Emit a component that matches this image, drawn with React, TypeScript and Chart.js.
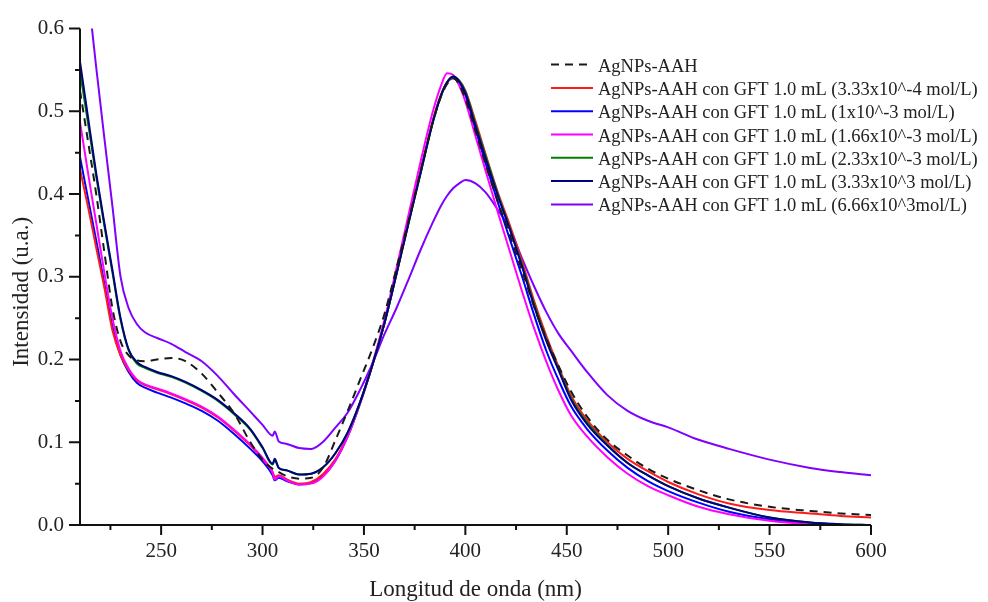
import React, { useEffect, useRef } from 'react';
import { Chart, registerables } from 'chart.js';
Chart.register(...registerables);

const wavelengths = [210, 214, 218, 222, 226, 230, 234, 238, 242, 248, 255, 262, 270, 278, 286, 294, 300, 305, 306, 308, 312, 318, 324, 330, 336, 342, 348, 354, 360, 366, 372, 378, 384, 388, 391, 394, 397, 400, 405, 410, 416, 422, 428, 434, 440, 446, 452, 460, 470, 480, 490, 500, 515, 530, 550, 570, 585, 600];

const aah = [0.525, 0.463, 0.400, 0.330, 0.262, 0.222, 0.205, 0.199, 0.198, 0.200, 0.202, 0.198, 0.183, 0.160, 0.135, 0.100, 0.079, 0.068, 0.067, 0.064, 0.059, 0.056, 0.057, 0.070, 0.103, 0.138, 0.175, 0.212, 0.254, 0.310, 0.368, 0.428, 0.487, 0.518, 0.533, 0.540, 0.532, 0.515, 0.476, 0.436, 0.391, 0.350, 0.307, 0.263, 0.225, 0.192, 0.162, 0.131, 0.103, 0.084, 0.068, 0.056, 0.042, 0.031, 0.022, 0.017, 0.014, 0.012];

const gft333e4 = [0.430, 0.384, 0.335, 0.287, 0.235, 0.205, 0.187, 0.175, 0.169, 0.164, 0.158, 0.151, 0.142, 0.130, 0.114, 0.096, 0.080, 0.064, 0.058, 0.060, 0.055, 0.050, 0.052, 0.062, 0.080, 0.109, 0.147, 0.192, 0.243, 0.303, 0.366, 0.428, 0.489, 0.520, 0.535, 0.541, 0.537, 0.525, 0.488, 0.448, 0.402, 0.362, 0.318, 0.270, 0.228, 0.191, 0.157, 0.127, 0.100, 0.080, 0.065, 0.052, 0.037, 0.026, 0.018, 0.014, 0.011, 0.009];

const gft1e3 = [0.445, 0.394, 0.344, 0.292, 0.240, 0.205, 0.185, 0.172, 0.166, 0.160, 0.154, 0.147, 0.138, 0.126, 0.110, 0.092, 0.077, 0.060, 0.054, 0.057, 0.053, 0.049, 0.051, 0.060, 0.078, 0.107, 0.146, 0.192, 0.243, 0.304, 0.367, 0.429, 0.489, 0.520, 0.535, 0.540, 0.535, 0.520, 0.478, 0.437, 0.390, 0.345, 0.300, 0.253, 0.210, 0.175, 0.144, 0.116, 0.090, 0.069, 0.053, 0.041, 0.027, 0.016, 0.007, 0.002, 0.000, 0.000];

const gft166e3 = [0.487, 0.425, 0.365, 0.305, 0.250, 0.210, 0.189, 0.176, 0.170, 0.165, 0.159, 0.152, 0.143, 0.131, 0.115, 0.097, 0.081, 0.063, 0.055, 0.059, 0.054, 0.049, 0.050, 0.059, 0.078, 0.107, 0.147, 0.194, 0.247, 0.310, 0.375, 0.440, 0.500, 0.531, 0.546, 0.544, 0.531, 0.512, 0.470, 0.428, 0.378, 0.330, 0.282, 0.237, 0.197, 0.162, 0.133, 0.107, 0.082, 0.062, 0.047, 0.036, 0.022, 0.013, 0.005, 0.001, 0.000, 0.000];

const gft233e3 = [0.548, 0.485, 0.421, 0.362, 0.305, 0.248, 0.211, 0.195, 0.190, 0.184, 0.179, 0.172, 0.162, 0.150, 0.134, 0.115, 0.093, 0.073, 0.078, 0.069, 0.066, 0.061, 0.062, 0.070, 0.087, 0.112, 0.148, 0.192, 0.243, 0.303, 0.365, 0.426, 0.487, 0.519, 0.535, 0.542, 0.537, 0.524, 0.485, 0.446, 0.400, 0.358, 0.314, 0.266, 0.224, 0.188, 0.154, 0.124, 0.097, 0.075, 0.060, 0.047, 0.032, 0.021, 0.009, 0.003, 0.001, 0.000];

const gft333e3 = [0.560, 0.492, 0.425, 0.365, 0.308, 0.250, 0.212, 0.197, 0.191, 0.185, 0.180, 0.173, 0.163, 0.151, 0.135, 0.116, 0.094, 0.074, 0.080, 0.069, 0.066, 0.061, 0.062, 0.070, 0.087, 0.112, 0.148, 0.192, 0.243, 0.303, 0.365, 0.426, 0.487, 0.519, 0.535, 0.542, 0.536, 0.522, 0.482, 0.443, 0.398, 0.357, 0.312, 0.264, 0.222, 0.187, 0.152, 0.122, 0.096, 0.075, 0.060, 0.047, 0.032, 0.021, 0.009, 0.003, 0.001, 0.000];

const gft666e3 = [null, 0.643, 0.553, 0.468, 0.385, 0.300, 0.262, 0.243, 0.233, 0.226, 0.219, 0.209, 0.198, 0.180, 0.158, 0.137, 0.121, 0.108, 0.113, 0.101, 0.098, 0.093, 0.092, 0.101, 0.118, 0.136, 0.163, 0.194, 0.230, 0.262, 0.297, 0.333, 0.366, 0.386, 0.398, 0.407, 0.413, 0.417, 0.413, 0.402, 0.381, 0.358, 0.322, 0.288, 0.257, 0.231, 0.211, 0.185, 0.157, 0.138, 0.126, 0.118, 0.103, 0.092, 0.079, 0.069, 0.064, 0.060];

const seriesLabels = [
  'AgNPs-AAH',
  'AgNPs-AAH con GFT 1.0 mL (3.33x10^-4 mol/L)',
  'AgNPs-AAH con GFT 1.0 mL (1x10^-3 mol/L)',
  'AgNPs-AAH con GFT 1.0 mL (1.66x10^-3 mol/L)',
  'AgNPs-AAH con GFT 1.0 mL (2.33x10^-3 mol/L)',
  'AgNPs-AAH con GFT 1.0 mL (3.33x10^3 mol/L)',
  'AgNPs-AAH con GFT 1.0 mL (6.66x10^3mol/L)',
];
const seriesValues = [aah, gft333e4, gft1e3, gft166e3, gft233e3, gft333e3, gft666e3];
const seriesColors = ['#1a1a1a', '#ff1a1a', '#0000ff', '#ff00ff', '#008000', '#000080', '#8000ff'];
const seriesDrawOrder = [0, 4, 5, 3, 2, 1, 6];

const xMajorTicks = [250, 300, 350, 400, 450, 500, 550, 600];
const xMinorTicks = [225, 275, 325, 375, 425, 475, 525, 575];
const yMajorTicks = [0, 0.1, 0.2, 0.3, 0.4, 0.5, 0.6];
const yMinorTicks = [0.05, 0.15, 0.25, 0.35, 0.45, 0.55];

const xTitle = 'Longitud de onda (nm)';
const yTitle = 'Intensidad (u.a.)';

const FONT = '"Liberation Serif", "Times New Roman", serif';

const decorPlugin = {
  id: 'decor',
  afterDraw(chart: any) {
    const { ctx, chartArea: a, scales } = chart;
    const x = scales.x;
    const y = scales.y;
    ctx.save();
    ctx.strokeStyle = '#111';
    ctx.lineWidth = 2;
    ctx.lineCap = 'butt';
    ctx.beginPath();
    ctx.moveTo(a.left, a.top);
    ctx.lineTo(a.left, a.bottom + 1);
    ctx.moveTo(a.left - 1, a.bottom);
    ctx.lineTo(a.right, a.bottom);
    ctx.stroke();
    ctx.beginPath();
    for (const v of xMajorTicks) {
      const px = x.getPixelForValue(v);
      ctx.moveTo(px, a.bottom);
      ctx.lineTo(px, a.bottom + 10);
    }
    for (const v of xMinorTicks) {
      const px = x.getPixelForValue(v);
      ctx.moveTo(px, a.bottom);
      ctx.lineTo(px, a.bottom + 5);
    }
    for (const v of yMajorTicks) {
      const py = y.getPixelForValue(v);
      ctx.moveTo(a.left, py);
      ctx.lineTo(a.left - 11, py);
    }
    for (const v of yMinorTicks) {
      const py = y.getPixelForValue(v);
      ctx.moveTo(a.left, py);
      ctx.lineTo(a.left - 5, py);
    }
    ctx.stroke();

    ctx.fillStyle = '#222';
    ctx.font = `23px ${FONT}`;
    ctx.textAlign = 'center';
    ctx.textBaseline = 'alphabetic';
    ctx.fillText(xTitle, (a.left + a.right) / 2, a.bottom + 71);
    ctx.save();
    ctx.translate(a.left - 52, (a.top + a.bottom) / 2 + 15);
    ctx.rotate(-Math.PI / 2);
    ctx.fillText(yTitle, 0, 0);
    ctx.restore();

    // legend
    ctx.font = `18.5px ${FONT}`;
    ctx.textAlign = 'left';
    const lx0 = a.left + 471;
    const lx1 = a.left + 513;
    const tx = a.left + 518;
    seriesLabels.forEach((label, i) => {
      const ly = a.top + 36 + i * 23.3;
      ctx.save();
      ctx.strokeStyle = seriesColors[i];
      ctx.lineWidth = 2;
      if (i === 0) ctx.setLineDash([8, 6]);
      ctx.beginPath();
      ctx.moveTo(lx0, ly);
      ctx.lineTo(lx1, ly);
      ctx.stroke();
      ctx.restore();
      ctx.fillStyle = '#222';
      ctx.fillText(label, tx, ly + 7);
    });
    ctx.restore();
  },
};

export default function App() {
  const ref = useRef<HTMLCanvasElement>(null);
  useEffect(() => {
    document.body.style.margin = '0';
    const canvas = ref.current;
    if (!canvas) return;
    const datasets = seriesLabels.map((label, i) => ({
      label,
      data: wavelengths
        .map((w, j) => ({ x: w, y: seriesValues[i][j] }))
        .filter((p) => p.y !== null),
      borderColor: seriesColors[i],
      backgroundColor: seriesColors[i],
      borderWidth: 2,
      borderDash: i === 0 ? [8, 6] : [],
      pointRadius: 0,
      cubicInterpolationMode: 'monotone' as const,
      fill: false,
      order: seriesDrawOrder[i],
    }));
    const chart = new Chart(canvas, {
      type: 'line',
      data: { datasets },
      plugins: [decorPlugin],
      options: {
        responsive: false,
        animation: false,
        events: [],
        layout: { padding: { top: 20, right: 117, left: 0, bottom: 0 } },
        plugins: { legend: { display: false }, tooltip: { enabled: false }, title: { display: false } },
        scales: {
          x: {
            type: 'linear',
            min: 210,
            max: 600,
            grid: { display: false, drawTicks: false },
            border: { display: false },
            afterBuildTicks: (scale: any) => {
              scale.ticks = xMajorTicks.map((v) => ({ value: v }));
            },
            afterFit: (scale: any) => {
              scale.height = 77;
            },
            ticks: {
              padding: 14,
              maxRotation: 0,
              autoSkip: false,
              color: '#222',
              font: { family: FONT, size: 21 },
              callback: (v: any) => String(v),
            },
          },
          y: {
            type: 'linear',
            min: 0,
            max: 0.6,
            grid: { display: false, drawTicks: false },
            border: { display: false },
            afterBuildTicks: (scale: any) => {
              scale.ticks = yMajorTicks.map((v) => ({ value: v }));
            },
            afterFit: (scale: any) => {
              scale.width = 80;
            },
            ticks: {
              padding: 16,
              color: '#222',
              font: { family: FONT, size: 21 },
              callback: (v: any) => Number(v).toFixed(1),
            },
          },
        },
      },
    });
    return () => chart.destroy();
  }, []);
  return (
    <div style={{ width: 988, height: 602, background: '#fff' }}>
      <canvas ref={ref} width={988} height={602} style={{ display: 'block' }} />
    </div>
  );
}
